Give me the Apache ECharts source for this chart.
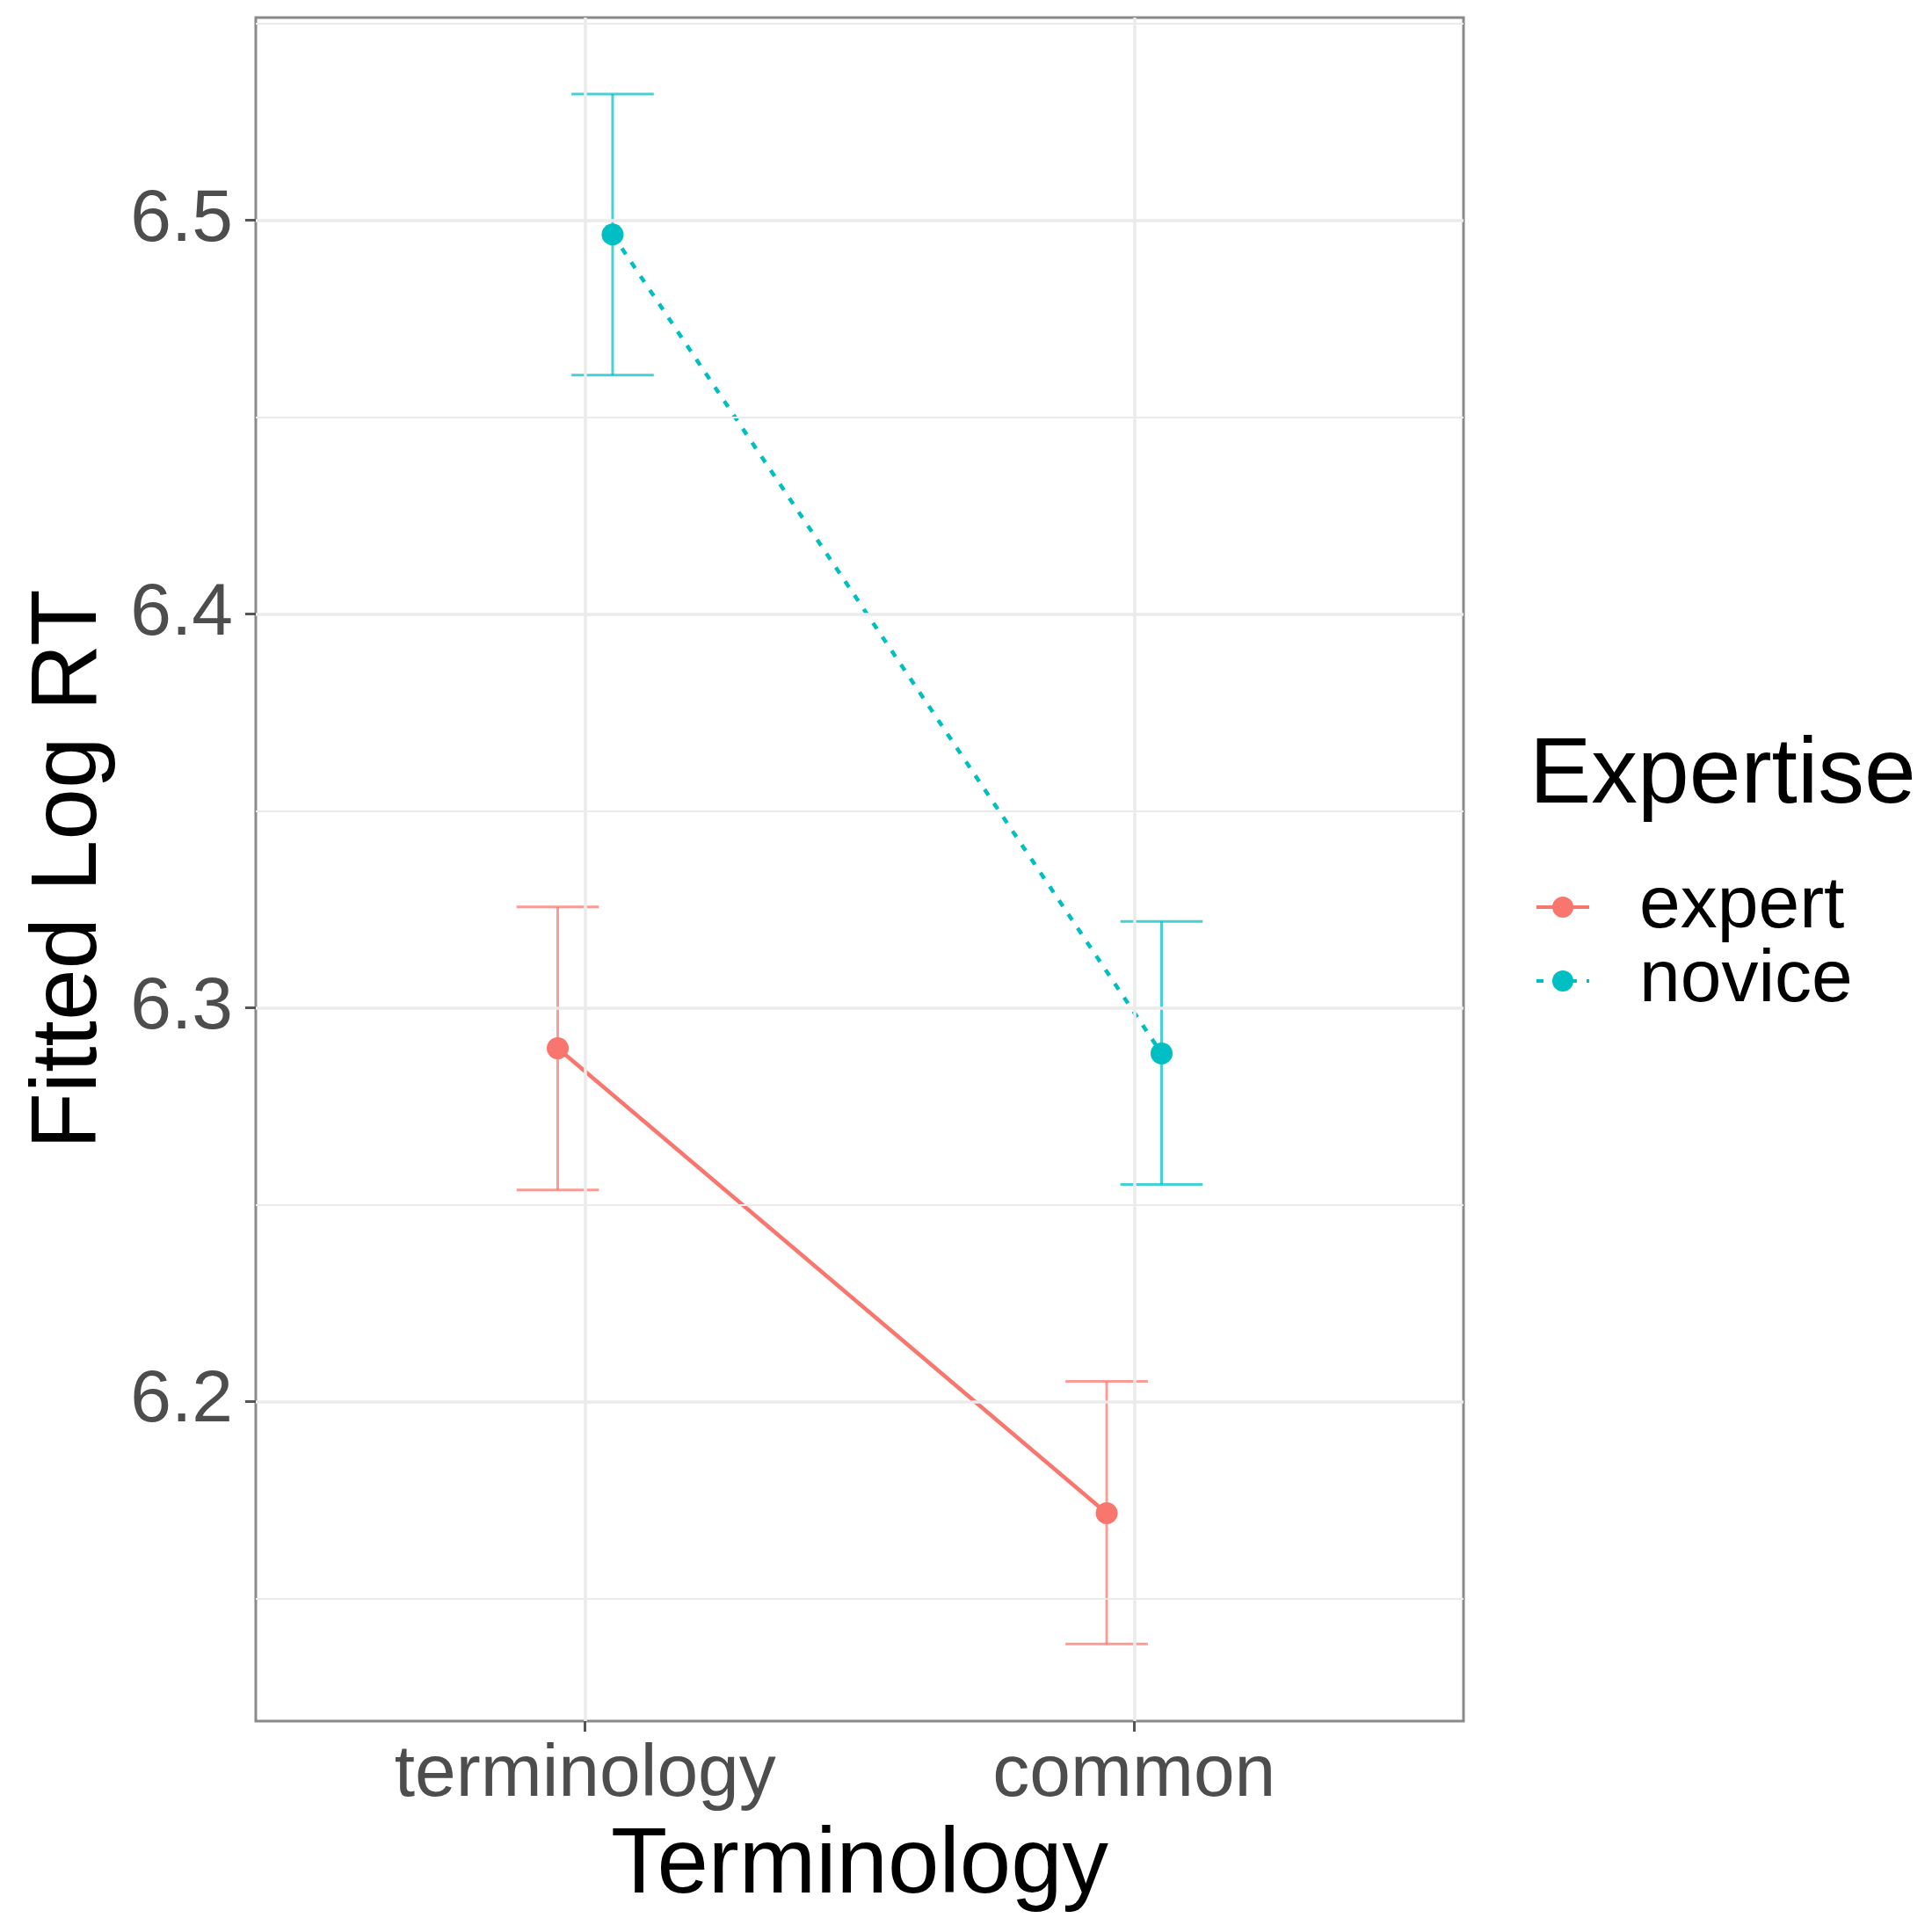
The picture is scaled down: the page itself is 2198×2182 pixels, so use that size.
<!DOCTYPE html>
<html>
<head>
<meta charset="utf-8">
<title>Fitted Log RT by Terminology and Expertise</title>
<script src="https://cdn.jsdelivr.net/npm/echarts@6/dist/echarts.min.js"></script>
<style>
  html, body { margin: 0; padding: 0; background: #ffffff; }
  #chart { width: 2198px; height: 2182px; }
</style>
</head>
<body>
<div id="chart"></div>
<script>
// Conditions on the x axis (placed at 1 and 2)
const categories = ['terminology', 'common'];
const groups = ['expert', 'novice'];

// Fitted log RT with lower / upper interval bounds per group
const expertFit   = [6.2897, 6.1716];
const expertLower = [6.2537, 6.1384];
const expertUpper = [6.3256, 6.2051];

const noviceFit   = [6.4964, 6.2884];
const noviceLower = [6.4607, 6.2551];
const noviceUpper = [6.5321, 6.3219];

// Axis ticks and grid positions
const yTicks = [6.2, 6.3, 6.4, 6.5];
const yMinorTicks = [6.15, 6.25, 6.35, 6.45, 6.55];
const xTicks = [1, 2];

const colors = { expert: '#F8766D', novice: '#00BFC4' };
const dodge = 0.05;       // horizontal offset of each group
const capHalf = 0.075;    // half width of error-bar caps
const yMin = 6.1188, yMax = 6.5515;
const xMin = 0.4, xMax = 2.6;

const FONT = '"Liberation Sans", Arial, Helvetica, sans-serif';

function pts(fit, offset) {
  return fit.map((v, i) => [xTicks[i] + offset, v]);
}
function bars(lower, upper, offset) {
  return lower.map((lo, i) => [xTicks[i] + offset, lo, upper[i]]);
}

function errorBarRenderer(color) {
  return function (params, api) {
    const x = api.value(0);
    const lo = api.coord([x, api.value(1)]);
    const hi = api.coord([x, api.value(2)]);
    const l1 = api.coord([x - capHalf, api.value(1)]);
    const r1 = api.coord([x + capHalf, api.value(1)]);
    const l2 = api.coord([x - capHalf, api.value(2)]);
    const r2 = api.coord([x + capHalf, api.value(2)]);
    const style = { stroke: color, lineWidth: 3, opacity: 0.72 };
    return {
      type: 'group',
      children: [
        { type: 'line', shape: { x1: lo[0], y1: lo[1], x2: hi[0], y2: hi[1] }, style },
        { type: 'line', shape: { x1: l1[0], y1: l1[1], x2: r1[0], y2: r1[1] }, style },
        { type: 'line', shape: { x1: l2[0], y1: l2[1], x2: r2[0], y2: r2[1] }, style }
      ]
    };
  };
}

// Background grid lines as mark lines
const gridMarks = []
  .concat(yMinorTicks.map(v => ({ yAxis: v, lineStyle: { color: '#EBEBEB', width: 2, type: 'solid' } })))
  .concat(yTicks.map(v => ({ yAxis: v, lineStyle: { color: '#EBEBEB', width: 3.5, type: 'solid' } })))
  .concat(xTicks.map(v => ({ xAxis: v, lineStyle: { color: '#EBEBEB', width: 3.5, type: 'solid' } })));

const chart = echarts.init(document.getElementById('chart'), null, { renderer: 'canvas' });

chart.setOption({
  backgroundColor: '#ffffff',
  animation: false,
  textStyle: { fontFamily: FONT },
  title: {
    text: 'Expertise',
    left: 1740,
    top: 831,
    padding: 0,
    textStyle: { fontFamily: FONT, fontSize: 105.5, fontWeight: 'normal', color: '#000000', lineHeight: 106 }
  },
  legend: {
    data: groups,
    orient: 'vertical',
    left: 1746,
    top: 990,
    padding: 0,
    itemGap: 0,
    itemWidth: 60,
    itemHeight: 30,
    lineStyle: { width: 4 },
    textStyle: { fontFamily: FONT, fontSize: 84, color: '#000000', lineHeight: 84, padding: [0, 0, 0, 52] }
  },
  grid: {
    left: 291, top: 20, width: 1374, height: 1946,
    show: true, borderColor: '#8A8A8A', borderWidth: 3, backgroundColor: '#ffffff',
    containLabel: false
  },
  xAxis: {
    type: 'value',
    min: xMin, max: xMax,
    name: 'Terminology',
    nameLocation: 'middle',
    nameGap: 114,
    nameTextStyle: { fontFamily: FONT, fontSize: 105, color: '#000000' },
    axisLine: { show: false },
    axisTick: { show: true, customValues: xTicks, length: 12, lineStyle: { color: '#555555', width: 3 } },
    axisLabel: {
      customValues: xTicks,
      formatter: v => categories[Math.round(v) - 1] || '',
      margin: 20,
      fontFamily: FONT, fontSize: 84, color: '#4D4D4D'
    },
    splitLine: { show: false }
  },
  yAxis: {
    type: 'value',
    min: yMin, max: yMax,
    name: 'Fitted Log RT',
    nameLocation: 'middle',
    nameGap: 158,
    nameTextStyle: { fontFamily: FONT, fontSize: 105.5, color: '#000000' },
    axisLine: { show: false },
    axisTick: { show: true, customValues: yTicks, length: 12, lineStyle: { color: '#555555', width: 3 } },
    axisLabel: {
      customValues: yTicks,
      formatter: v => v.toFixed(1),
      margin: 26,
      fontFamily: FONT, fontSize: 84, color: '#4D4D4D'
    },
    splitLine: { show: false }
  },
  series: [
    {
      name: 'grid',
      type: 'line',
      data: [],
      silent: true,
      z: 0,
      markLine: {
        silent: true,
        symbol: ['none', 'none'],
        label: { show: false },
        animation: false,
        data: gridMarks
      }
    },
    {
      name: 'expert-bars',
      type: 'custom',
      renderItem: errorBarRenderer(colors.expert),
      data: bars(expertLower, expertUpper, -dodge),
      z: 2,
      silent: true
    },
    {
      name: 'novice-bars',
      type: 'custom',
      renderItem: errorBarRenderer(colors.novice),
      data: bars(noviceLower, noviceUpper, dodge),
      z: 2,
      silent: true
    },
    {
      name: 'expert',
      type: 'line',
      data: pts(expertFit, -dodge),
      symbol: 'circle',
      symbolSize: 25,
      itemStyle: { color: colors.expert },
      lineStyle: { color: colors.expert, width: 4.5, type: 'solid' },
      z: 3
    },
    {
      name: 'novice',
      type: 'line',
      data: pts(noviceFit, dodge),
      symbol: 'circle',
      symbolSize: 25,
      itemStyle: { color: colors.novice },
      lineStyle: { color: colors.novice, width: 4.5, type: [8, 11] },
      z: 3
    }
  ]
});
</script>
</body>
</html>
